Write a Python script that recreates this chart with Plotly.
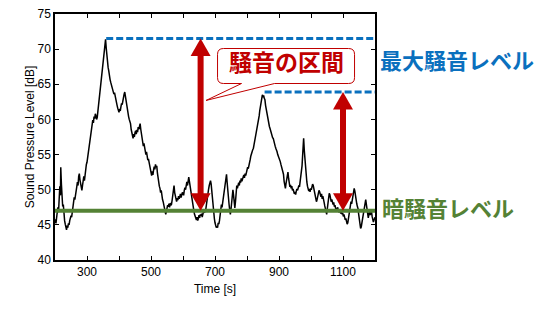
import plotly.graph_objects as go

# Sound pressure level readings: (time [s], level [dB])
trace_points = [
    (200, 45.8), (203, 45.2), (206, 46.4), (209, 47.5), (211, 46.8), (213, 48.6), (215, 50.5), (217, 49.2),
    (218, 53.2), (220, 50.8), (222, 49.0), (224, 47.6), (226, 47.9), (228, 46.3), (230, 45.6), (232, 45.1),
    (234, 44.8), (236, 44.3), (238, 44.9), (240, 44.6), (242, 45.2), (244, 45.0), (246, 45.6), (248, 45.9),
    (250, 46.3), (252, 46.1), (254, 47.0), (256, 47.6), (258, 48.3), (260, 48.9), (262, 48.6), (264, 49.5),
    (266, 50.0), (268, 50.4), (270, 51.1), (272, 50.6), (274, 51.9), (276, 52.3), (278, 51.4), (280, 51.0),
    (282, 50.4), (284, 49.9), (286, 50.6), (288, 51.5), (290, 51.9), (292, 51.3), (294, 52.4), (296, 52.9),
    (298, 53.6), (300, 53.9), (302, 54.6), (304, 55.2), (306, 55.7), (308, 56.6), (310, 57.3), (312, 57.9),
    (314, 58.6), (316, 59.4), (318, 59.9), (320, 59.5), (322, 60.4), (324, 60.1), (326, 60.8), (328, 60.5),
    (330, 60.0), (332, 60.3), (334, 61.2), (336, 62.0), (338, 62.8), (340, 63.6), (342, 64.4), (344, 65.0),
    (346, 65.8), (348, 66.6), (350, 67.7), (352, 68.5), (354, 69.6), (356, 70.6), (358, 71.4), (360, 70.2),
    (362, 69.0), (364, 68.2), (366, 67.4), (368, 66.9), (370, 66.0), (372, 65.7), (374, 65.3), (376, 64.9),
    (378, 64.7), (380, 64.2), (382, 64.0), (384, 63.6), (386, 63.8), (388, 63.2), (390, 63.0), (392, 62.6),
    (394, 62.0), (396, 61.6), (398, 61.2), (400, 61.0), (402, 61.5), (404, 61.2), (406, 61.8), (408, 62.3),
    (410, 62.1), (412, 62.8), (414, 63.0), (416, 63.6), (418, 63.9), (420, 63.2), (422, 62.6), (424, 62.0),
    (426, 61.7), (428, 61.0), (430, 60.4), (432, 60.0), (434, 59.7), (436, 59.4), (438, 58.6), (440, 58.0),
    (442, 57.6), (444, 57.3), (446, 57.9), (448, 57.5), (450, 58.1), (452, 58.4), (454, 57.9), (456, 58.5),
    (458, 58.2), (460, 58.9), (462, 58.6), (464, 59.3), (466, 59.4), (468, 58.6), (470, 57.8), (472, 57.4),
    (474, 56.9), (476, 56.2), (478, 56.6), (480, 55.8), (482, 55.5), (484, 55.0), (486, 55.4), (488, 54.6),
    (490, 54.2), (492, 54.4), (494, 53.8), (496, 53.2), (498, 52.7), (500, 52.3), (502, 52.0), (504, 52.6),
    (506, 52.1), (508, 52.8), (510, 53.3), (512, 52.9), (514, 53.6), (516, 53.2), (518, 53.4), (520, 52.4),
    (522, 51.6), (524, 51.0), (526, 50.5), (528, 50.2), (530, 49.6), (532, 49.9), (534, 49.0), (536, 48.6),
    (538, 48.3), (540, 47.9), (542, 47.4), (544, 47.0), (546, 46.5), (548, 46.9), (550, 47.3), (552, 47.8),
    (554, 47.6), (556, 48.0), (558, 47.5), (560, 48.1), (562, 47.8), (564, 47.9), (566, 48.5), (568, 49.2),
    (570, 50.0), (572, 50.6), (574, 49.6), (576, 48.9), (578, 48.5), (580, 48.3), (582, 48.8), (584, 48.5),
    (586, 49.1), (588, 48.7), (590, 49.0), (592, 49.4), (594, 48.9), (596, 49.3), (598, 49.6), (600, 49.5),
    (602, 49.2), (604, 49.9), (606, 50.3), (608, 50.0), (610, 50.8), (612, 51.1), (614, 50.6), (616, 51.4),
    (618, 51.8), (620, 51.2), (622, 50.5), (624, 49.8), (626, 49.3), (628, 48.8), (630, 48.0), (632, 47.5),
    (634, 47.0), (636, 46.5), (638, 46.2), (640, 45.9), (642, 45.7), (644, 46.1), (646, 45.6), (648, 45.9),
    (650, 46.4), (652, 46.0), (654, 46.5), (656, 46.3), (658, 46.6), (660, 46.1), (662, 46.5), (664, 46.9),
    (666, 46.7), (668, 47.2), (670, 46.8), (672, 47.6), (674, 48.4), (676, 49.0), (678, 49.7), (680, 50.1),
    (682, 50.6), (684, 50.9), (686, 51.3), (688, 50.8), (690, 49.6), (692, 48.4), (694, 47.4), (696, 46.6),
    (698, 45.9), (700, 45.3), (702, 45.0), (704, 44.6), (706, 44.8), (708, 44.6), (710, 45.3), (712, 45.1),
    (714, 45.6), (716, 46.3), (718, 47.2), (720, 47.9), (722, 47.5), (724, 48.3), (726, 48.8), (728, 49.7),
    (730, 50.5), (732, 51.2), (734, 51.8), (736, 52.2), (738, 51.0), (740, 49.5), (742, 48.4), (744, 47.9),
    (746, 47.1), (748, 46.5), (750, 47.2), (752, 48.0), (754, 49.1), (756, 50.0), (758, 49.2), (760, 48.2),
    (762, 47.4), (764, 48.3), (766, 49.6), (768, 50.6), (770, 50.2), (772, 50.8), (774, 51.0), (776, 50.6),
    (778, 51.3), (780, 51.0), (782, 51.6), (784, 51.2), (786, 51.5), (788, 51.8), (790, 52.1), (792, 51.7),
    (794, 52.3), (796, 52.0), (798, 52.5), (800, 52.9), (802, 53.2), (804, 53.0), (806, 53.7), (808, 54.1),
    (810, 54.3), (812, 54.8), (814, 55.0), (816, 55.4), (818, 55.7), (820, 55.9), (822, 56.4), (824, 56.9),
    (826, 57.4), (828, 57.9), (830, 58.2), (832, 58.9), (834, 59.6), (836, 60.1), (838, 60.5), (840, 61.3),
    (842, 62.0), (844, 62.6), (846, 63.0), (848, 63.5), (850, 63.3), (852, 63.4), (854, 63.0), (856, 62.8),
    (858, 62.0), (860, 61.4), (862, 61.0), (864, 60.4), (866, 60.0), (868, 59.4), (870, 59.0), (872, 58.7),
    (874, 58.3), (876, 58.0), (878, 57.7), (880, 57.4), (882, 57.3), (884, 56.8), (886, 56.4), (888, 56.2),
    (890, 55.9), (892, 55.7), (894, 55.4), (896, 55.0), (898, 54.8), (900, 54.6), (902, 54.4), (904, 54.0),
    (906, 53.6), (908, 53.3), (910, 53.0), (912, 52.6), (914, 52.2), (916, 51.2), (918, 50.6), (920, 50.2),
    (922, 50.9), (924, 51.7), (926, 52.3), (928, 52.5), (930, 51.6), (932, 50.8), (934, 50.4), (936, 50.7),
    (938, 50.2), (940, 50.5), (942, 49.9), (944, 50.1), (946, 49.7), (948, 49.4), (950, 49.7), (952, 49.3),
    (954, 49.8), (956, 50.1), (958, 49.9), (960, 50.2), (962, 50.6), (964, 50.4), (966, 51.1), (968, 51.8),
    (970, 52.5), (972, 53.4), (974, 55.0), (976, 56.8), (977, 57.3), (979, 55.6), (981, 54.3), (983, 52.8),
    (985, 51.6), (987, 51.1), (989, 50.5), (991, 50.2), (993, 49.8), (995, 50.1), (997, 49.7), (999, 50.2),
    (1001, 50.0), (1003, 50.4), (1005, 50.8), (1007, 50.6), (1009, 50.1), (1011, 49.5), (1013, 49.1), (1015, 48.8),
    (1017, 48.3), (1019, 48.6), (1021, 49.2), (1023, 49.5), (1025, 49.9), (1027, 49.7), (1029, 49.3), (1031, 49.0),
    (1033, 49.4), (1035, 48.7), (1037, 49.1), (1039, 48.8), (1041, 48.2), (1043, 47.7), (1045, 47.1), (1047, 46.8),
    (1049, 46.5), (1051, 47.3), (1053, 48.2), (1055, 48.9), (1057, 49.5), (1059, 49.3), (1061, 48.7), (1063, 48.3),
    (1065, 48.6), (1067, 48.0), (1069, 47.9), (1071, 48.2), (1073, 47.6), (1075, 47.8), (1077, 47.3), (1079, 47.4),
    (1081, 47.0), (1083, 47.5), (1085, 47.1), (1087, 46.8), (1089, 47.2), (1091, 46.9), (1093, 46.6), (1095, 46.9),
    (1097, 46.5), (1099, 46.7), (1101, 46.2), (1103, 46.5), (1105, 46.1), (1107, 45.7), (1109, 45.9), (1111, 45.4),
    (1113, 45.1), (1115, 45.3), (1117, 45.9), (1119, 46.6), (1121, 47.3), (1123, 47.7), (1125, 48.3), (1127, 48.0),
    (1129, 48.7), (1131, 49.2), (1133, 49.6), (1135, 50.2), (1137, 49.8), (1139, 49.0), (1141, 48.4), (1143, 48.0),
    (1145, 47.6), (1147, 47.3), (1149, 46.5), (1151, 45.6), (1153, 45.0), (1155, 44.5), (1157, 44.7), (1159, 45.3),
    (1161, 45.9), (1163, 46.2), (1165, 46.9), (1167, 47.6), (1169, 48.2), (1171, 48.6), (1173, 47.9), (1175, 47.0),
    (1177, 46.4), (1179, 46.0), (1181, 46.5), (1183, 46.9), (1185, 46.4), (1187, 46.8), (1189, 46.9), (1191, 46.2),
    (1193, 45.9), (1195, 45.4), (1197, 45.7), (1199, 46.0), (1200, 46.1),
]
time_s = [p[0] for p in trace_points]
spl_db = [p[1] for p in trace_points]

# Reference levels
max_levels = [71.5, 63.9]          # 最大騒音レベル
max_level_starts = [360, 855]      # where each dashed level line begins [s]
background_level = 47.0            # 暗騒音レベル
arrow_times = [655, 1100]          # noisy intervals marked by double arrows [s]

# Callout
callout_text = "騒音の区間"
callout_center = (922, 67.6)
callout_tip = (672, 62.7)

# Axis setup
x_range = [200, 1200]
y_range = [40, 75]
x_tickvals = [300, 400, 500, 600, 700, 800, 900, 1000, 1100]
x_ticktext = ["300", "", "500", "", "700", "", "900", "", "1100"]
y_tickvals = [40, 45, 50, 55, 60, 65, 70, 75]

W, H = 546, 324
margin = dict(l=55, r=171, t=7, b=64)
plot_w = W - margin["l"] - margin["r"]
plot_h = H - margin["t"] - margin["b"]
sx = (x_range[1] - x_range[0]) / plot_w   # seconds per pixel
sy = (y_range[1] - y_range[0]) / plot_h   # dB per pixel

BLUE = "#0A70BE"
GREEN = "#548235"
RED = "#C00000"
JP_FONT = "Noto Sans CJK JP"

fig = go.Figure()
fig.add_trace(go.Scatter(x=time_s, y=spl_db, mode="lines",
                         line=dict(color="black", width=1.5), hoverinfo="skip"))

shapes = []
# Maximum noise levels (dashed)
for lvl, start in zip(max_levels, max_level_starts):
    shapes.append(dict(type="line", xref="x", yref="y", x0=start, x1=x_range[1], y0=lvl, y1=lvl,
                       line=dict(color=BLUE, width=3, dash="7px,3px"), layer="above"))
# Background noise level
shapes.append(dict(type="line", xref="x", yref="y", x0=x_range[0], x1=x_range[1],
                   y0=background_level, y1=background_level,
                   line=dict(color=GREEN, width=4), layer="above"))

# Double-headed arrows between background level and each maximum level
head_w, head_l, shaft_w = 20 * sx, 18 * sy, 6 * sx
for t, top in zip(arrow_times, max_levels):
    bot = background_level
    shapes.append(dict(type="rect", xref="x", yref="y", x0=t - shaft_w / 2, x1=t + shaft_w / 2,
                       y0=bot + head_l - 0.1, y1=top - head_l + 0.1,
                       fillcolor=RED, line=dict(width=0), layer="above"))
    shapes.append(dict(type="path", xref="x", yref="y",
                       path=f"M {t - head_w / 2} {top - head_l} L {t} {top} L {t + head_w / 2} {top - head_l} Z",
                       fillcolor=RED, line=dict(width=0), layer="above"))
    shapes.append(dict(type="path", xref="x", yref="y",
                       path=f"M {t - head_w / 2} {bot + head_l} L {t} {bot} L {t + head_w / 2} {bot + head_l} Z",
                       fillcolor=RED, line=dict(width=0), layer="above"))

# Rounded callout box with a pointer
cx, cy = callout_center
bw, bh = 137 * sx, 36 * sy
rx, ry = 6 * sx, 6 * sy
x0, x1 = cx - bw / 2, cx + bw / 2
yb, yt = cy - bh / 2, cy + bh / 2
ta, tb = x0 + 24 * sx, x0 + 57 * sx
tx, ty = callout_tip
callout_path = (
    f"M {x0 + rx} {yt} L {x1 - rx} {yt} Q {x1} {yt} {x1} {yt - ry} "
    f"L {x1} {yb + ry} Q {x1} {yb} {x1 - rx} {yb} "
    f"L {tb} {yb} L {tx} {ty} L {ta} {yb} "
    f"L {x0 + rx} {yb} Q {x0} {yb} {x0} {yb + ry} "
    f"L {x0} {yt - ry} Q {x0} {yt} {x0 + rx} {yt} Z"
)
shapes.append(dict(type="path", xref="x", yref="y", path=callout_path,
                   fillcolor="white", line=dict(color=RED, width=1), layer="above"))

annotations = [
    dict(x=cx, y=cy, xref="x", yref="y", text=callout_text, showarrow=False, yshift=5,
         font=dict(family=JP_FONT, size=23, color=RED, weight="bold")),
    dict(x=x_range[1], y=sum(max_levels) / len(max_levels), xref="x", yref="y",
         text="最大騒音レベル", showarrow=False, xanchor="left", xshift=3, yshift=6,
         font=dict(family=JP_FONT, size=22, color=BLUE, weight="bold")),
    dict(x=x_range[1], y=background_level, xref="x", yref="y",
         text="暗騒音レベル", showarrow=False, xanchor="left", xshift=5, yshift=4,
         font=dict(family=JP_FONT, size=22, color=GREEN, weight="bold")),
]

axis_common = dict(showline=True, linecolor="black", linewidth=1.5, mirror="allticks",
                   ticks="inside", ticklen=4, tickcolor="black", tickwidth=1,
                   showgrid=False, zeroline=False,
                   tickfont=dict(family="Liberation Sans, Arial", size=12, color="black"))

fig.update_layout(
    width=W, height=H, margin=margin,
    paper_bgcolor="white", plot_bgcolor="white", showlegend=False,
    shapes=shapes, annotations=annotations,
    xaxis=dict(range=x_range, tickmode="array", tickvals=x_tickvals, ticktext=x_ticktext,
               title=dict(text="Time [s]", standoff=6,
                          font=dict(family="Liberation Sans, Arial", size=12, color="black")),
               **axis_common),
    yaxis=dict(range=y_range, tickmode="array", tickvals=y_tickvals,
               title=dict(text="Sound Pressure Level [dB]", standoff=0,
                          font=dict(family="Liberation Sans, Arial", size=12, color="black")),
               **axis_common),
)

fig.write_html("out.html")
